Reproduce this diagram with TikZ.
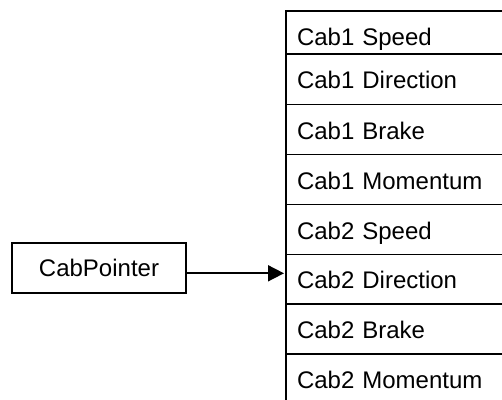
\documentclass[tikz,border=0pt]{standalone}
\usepackage{fontspec}
\setmainfont{Liberation Sans}
\usetikzlibrary{arrows.meta}
\begin{document}
\begin{tikzpicture}[x=1pt,y=-1pt,
  lw/.style={line width=1.7pt},
  rowbox/.style={draw,lw,anchor=north west,outer sep=0pt,inner ysep=0pt,
    inner xsep=11pt,text width=230pt,align=left,text height=19pt,text depth=0pt,
    font=\fontsize{24}{28}\selectfont},
  ptrbox/.style={draw,lw,outer sep=0pt,inner sep=0pt,minimum width=174pt,minimum height=50pt,
    text height=17.2pt,text depth=0pt,font=\fontsize{24}{28}\selectfont},
  conn/.style={lw,shorten >=2pt,-{Triangle[length=16pt,width=16pt]}}]
\useasboundingbox (0,0) rectangle (502,399);
\clip (0,0) rectangle (502,399);
\fill[white] (0,0) rectangle (502,399);
\node[rowbox,minimum height=43pt,text height=25pt] (r1) at (286,11) {Cab1 Speed};
\node[rowbox,minimum height=50.5pt] (r2) at (286,54) {Cab1 Direction};
\node[rowbox,minimum height=50pt] (r3) at (286,104.5) {Cab1 Brake};
\node[rowbox,minimum height=50pt] (r4) at (286,154.5) {Cab1 Momentum};
\node[rowbox,minimum height=50pt] (r5) at (286,204.5) {Cab2 Speed};
\node[rowbox,minimum height=49.5pt] (r6) at (286,254.5) {Cab2 Direction};
\node[rowbox,minimum height=50pt] (r7) at (286,304) {Cab2 Brake};
\node[rowbox,minimum height=50pt] (r8) at (286,354) {Cab2 Momentum};
\node[ptrbox] (cp) at (99,268.3) {CabPointer};
\coordinate (a0) at (186,273.3);
\draw[conn] (a0) -- (a0 -| r6.west);
\end{tikzpicture}
\end{document}
